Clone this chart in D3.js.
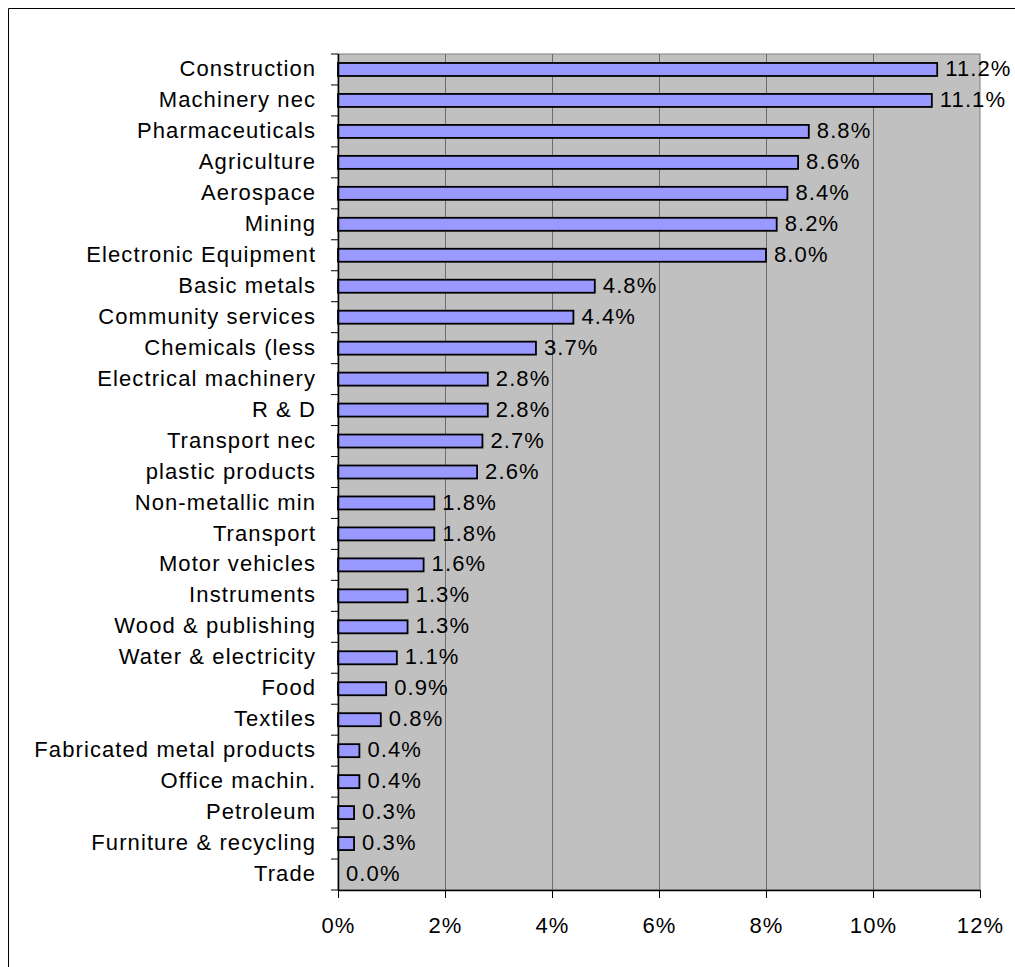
<!DOCTYPE html>
<html>
<head>
<meta charset="utf-8">
<script src="https://cdn.jsdelivr.net/npm/d3@7"></script>
<style>
  html, body { margin: 0; padding: 0; background: #fff; }
  svg { display: block; }
  text { font-family: "Liberation Sans", Arial, sans-serif; fill: #000; }
</style>
</head>
<body>
<svg id="chart" width="1015" height="967"></svg>
<script>
// Industry shares, largest first
const categories = [
  "Construction", "Machinery nec", "Pharmaceuticals", "Agriculture", "Aerospace",
  "Mining", "Electronic Equipment", "Basic metals", "Community services",
  "Chemicals (less", "Electrical machinery", "R & D", "Transport nec",
  "plastic products", "Non-metallic min", "Transport", "Motor vehicles",
  "Instruments", "Wood & publishing", "Water & electricity", "Food", "Textiles",
  "Fabricated metal products", "Office machin.", "Petroleum",
  "Furniture & recycling", "Trade"
];
const shares = [
  11.2, 11.1, 8.8, 8.6, 8.4, 8.2, 8.0, 4.8, 4.4, 3.7, 2.8, 2.8, 2.7, 2.6,
  1.8, 1.8, 1.6, 1.3, 1.3, 1.1, 0.9, 0.8, 0.4, 0.4, 0.3, 0.3, 0.0
];
const xTicks = [0, 2, 4, 6, 8, 10, 12];

const svg = d3.select("#chart");
const W = 1015, H = 967;
const plot = { left: 338, top: 54, right: 980, bottom: 890 };
const fontSize = 22;
const spacing = 1.1;

// Frame around the chart area
svg.append("path")
  .attr("d", `M8.5,${H} V8.5 H${W}`)
  .attr("fill", "none").attr("stroke", "#000").attr("stroke-width", 1);

const x = d3.scaleLinear().domain([0, 12]).range([plot.left, plot.right]);
const y = d3.scaleBand().domain(categories).range([plot.top, plot.bottom])
  .paddingInner(0.58).paddingOuter(0.29);

// Plot background
svg.append("rect")
  .attr("x", plot.left).attr("y", plot.top)
  .attr("width", plot.right - plot.left).attr("height", plot.bottom - plot.top)
  .attr("fill", "#c0c0c0").attr("stroke", "#808080").attr("stroke-width", 1);

// Vertical gridlines
svg.append("g").selectAll("line").data(xTicks.slice(1, -1)).join("line")
  .attr("x1", d => Math.round(x(d)) + 0.5).attr("x2", d => Math.round(x(d)) + 0.5)
  .attr("y1", plot.top).attr("y2", plot.bottom)
  .attr("stroke", "#6e6e6e").attr("stroke-width", 1);

// Bars
svg.append("g").selectAll("rect").data(categories).join("rect")
  .attr("x", plot.left)
  .attr("y", d => y(d))
  .attr("width", (d, i) => x(shares[i]) - plot.left)
  .attr("height", y.bandwidth())
  .attr("fill", "#9999ff")
  .attr("stroke", "#000").attr("stroke-width", 1.8)
  .style("display", (d, i) => shares[i] > 0 ? null : "none");

// Value labels
svg.append("g").selectAll("text").data(categories).join("text")
  .attr("x", (d, i) => x(shares[i]) + 8)
  .attr("y", d => y(d) + y.bandwidth() / 2)
  .attr("dy", "0.3em")
  .attr("font-size", fontSize)
  .attr("letter-spacing", spacing)
  .text((d, i) => d3.format(".1f")(shares[i]) + "%");

// Bottom axis
const xAxis = d3.axisBottom(x).tickValues(xTicks)
  .tickFormat(d => d + "%").tickSizeInner(8).tickSizeOuter(0).tickPadding(19);
const gx = svg.append("g").attr("transform", `translate(0,${plot.bottom})`).call(xAxis);
gx.select(".domain").attr("stroke", "#000").attr("stroke-width", 1.5);
gx.selectAll(".tick line").attr("stroke", "#000");
gx.selectAll(".tick text")
  .attr("font-size", fontSize)
  .attr("letter-spacing", spacing)
  .attr("font-family", "Liberation Sans, Arial, sans-serif");

// Left axis with ticks on the band boundaries
const gy = svg.append("g").attr("transform", `translate(${plot.left},0)`);
gy.append("line")
  .attr("x1", 0.5).attr("x2", 0.5).attr("y1", plot.top).attr("y2", plot.bottom)
  .attr("stroke", "#000").attr("stroke-width", 1.5);
const step = (plot.bottom - plot.top) / categories.length;
gy.selectAll("line.tk").data(d3.range(categories.length + 1)).join("line")
  .attr("class", "tk")
  .attr("x1", -7).attr("x2", 0)
  .attr("y1", i => plot.top + i * step).attr("y2", i => plot.top + i * step)
  .attr("stroke", "#000");
gy.selectAll("text").data(categories).join("text")
  .attr("x", -23 + spacing)
  .attr("y", d => y(d) + y.bandwidth() / 2)
  .attr("dy", "0.3em")
  .attr("text-anchor", "end")
  .attr("font-size", fontSize)
  .attr("letter-spacing", spacing)
  .text(d => d);
</script>
</body>
</html>
